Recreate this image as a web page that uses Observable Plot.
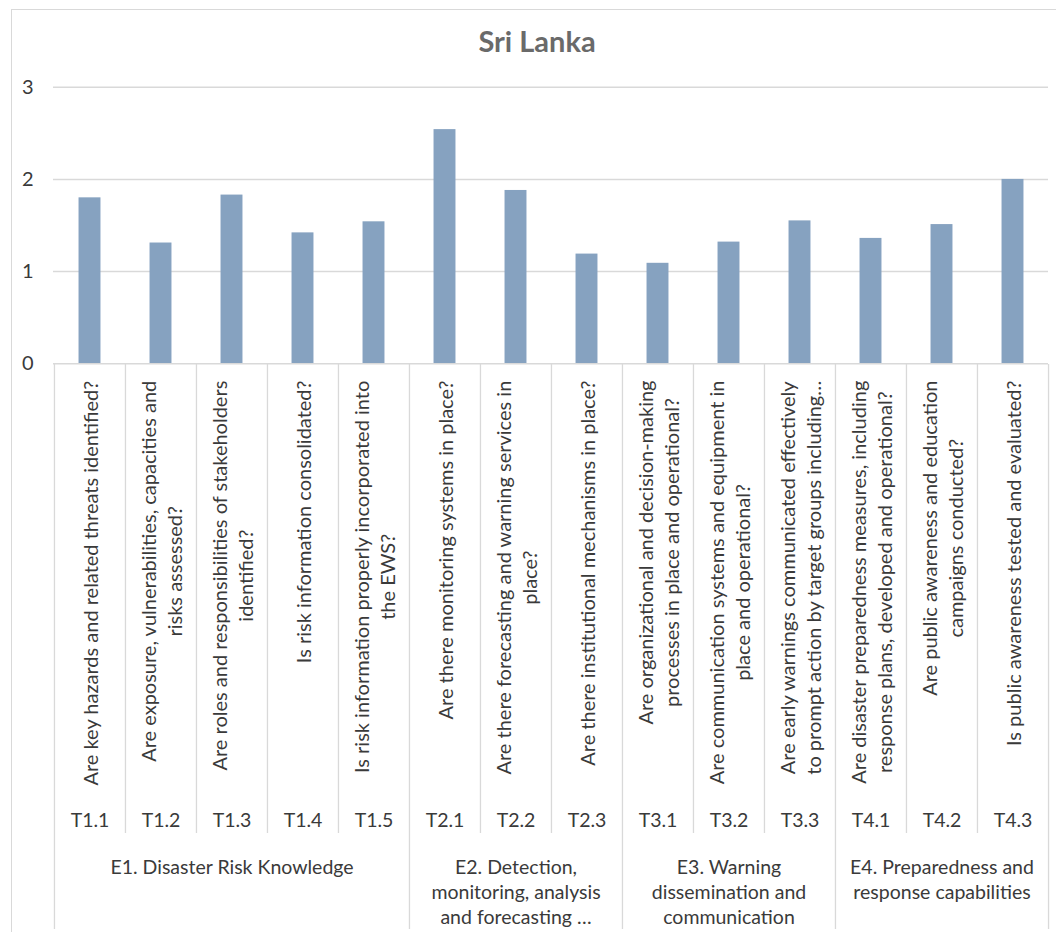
<!DOCTYPE html>
<html><head><meta charset="utf-8">
<script src="https://cdn.jsdelivr.net/npm/d3@7"></script>
<script src="https://cdn.jsdelivr.net/npm/@observablehq/plot@0.6"></script>
<style>
html,body{margin:0;padding:0;background:#fff;}
#wrap{position:relative;width:1056px;height:932px;overflow:hidden;font-family:Lato,"Open Sans",sans-serif;}
#frame{position:absolute;left:11px;top:9px;right:-2px;bottom:-2px;border-left:1.5px solid #d9d9d9;border-top:1.5px solid #d9d9d9;}
#title{position:absolute;left:397px;width:280px;top:24px;line-height:34px;text-align:center;font-weight:700;font-size:29px;color:#6a6a6a;}
#chart{position:absolute;left:0;top:70px;}
</style></head><body>
<div id="wrap"><div id="frame"></div><div id="title"></div><div id="chart"></div></div>
<script>
// ---- data ----
const codes = ["T1.1","T1.2","T1.3","T1.4","T1.5","T2.1","T2.2","T2.3","T3.1","T3.2","T3.3","T4.1","T4.2","T4.3"];
const questions = [
  "Are key hazards and related threats identified?",
  "Are exposure, vulnerabilities, capacities and\nrisks assessed?",
  "Are roles and responsibilities of stakeholders\nidentified?",
  "Is risk information consolidated?",
  "Is risk information properly incorporated into\nthe EWS?",
  "Are there monitoring systems in place?",
  "Are there forecasting and warning services in\nplace?",
  "Are there institutional mechanisms in place?",
  "Are organizational and decision-making\nprocesses in place and operational?",
  "Are communication systems and equipment in\nplace and operational?",
  "Are early warnings communicated effectively\nto prompt action by target groups including\u2026",
  "Are disaster preparedness measures, including\nresponse plans, developed and operational?",
  "Are public awareness and education\ncampaigns conducted?",
  "Is public awareness tested and evaluated?"
];
const values = [1.80, 1.31, 1.83, 1.42, 1.54, 2.54, 1.88, 1.19, 1.09, 1.32, 1.55, 1.36, 1.51, 2.00];
const groupKeys = ["T1","T2","T3","T4"];
const groupLabels = [
  "E1. Disaster Risk Knowledge",
  "E2. Detection,\nmonitoring, analysis\nand forecasting \u2026",
  "E3. Warning\ndissemination and\ncommunication",
  "E4. Preparedness and\nresponse capabilities"
];
const yTicks = [0, 1, 2, 3];
const title = "Sri Lanka";

// ---- layout ----
const W = 1056, H = 862, svgTop = 70;
const mL = 53, mR = 8, mT = 16.7, mB = 568.7;
const zeroPage = svgTop + H - mB;
const pxPerUnit = (H - mT - mB) / 3;
const yAt = pageY => (zeroPage - pageY) / pxPerUnit;
const bw = (W - mL - mR) / codes.length;
const barW = 22;

const qFont = 20, qLine = 1.3;
const ctx = document.createElement("canvas").getContext("2d");
ctx.font = `${qFont}px Lato`;
const maxW = s => Math.max(...s.split("\n").map(l => ctx.measureText(l).width));

const rows = codes.map((c, i) => ({code: c, question: questions[i], value: values[i]}));
const groupRows = groupKeys.map((g, i) => {
  const members = codes.filter(c => c.startsWith(g));
  return {label: groupLabels[i], mid: members[(members.length - 1) / 2]};
});
const groupStarts = new Set(groupKeys.map(g => codes.find(c => c.startsWith(g))));
const line = "#d9d9d9";

document.getElementById("title").textContent = title;

const chart = Plot.plot({
  width: W, height: H,
  marginLeft: mL, marginRight: mR, marginTop: mT, marginBottom: mB,
  style: {fontFamily: "Lato, sans-serif", fontSize: "20px", color: "#3a3a3a", background: "transparent"},
  x: {type: "band", domain: codes, padding: 0, axis: null},
  y: {domain: [0, 3], ticks: yTicks, tickSize: 0, tickPadding: 20, label: null, tickFormat: d => String(d)},
  marks: [
    Plot.ruleY([1, 2, 3], {stroke: line, strokeWidth: 1.5}),
    Plot.barY(rows, {x: "code", y: "value", fill: "#86a2c0", insetLeft: (bw - barW) / 2, insetRight: (bw - barW) / 2}),
    Plot.ruleY([0], {stroke: line, strokeWidth: 1.5}),
    Plot.ruleX(codes, {x: d => d, dx: -bw / 2, y1: yAt(364), y2: d => groupStarts.has(d) ? yAt(929) : yAt(833), stroke: line, strokeWidth: 1.3}),
    Plot.ruleX([codes[codes.length - 1]], {x: d => d, dx: bw / 2, y1: yAt(364), y2: yAt(929), stroke: line, strokeWidth: 1.3}),
    Plot.text(rows, {x: "code", y: d => yAt(380 + maxW(d.question) / 2), text: "question", rotate: -90,
      textAnchor: "middle", lineAnchor: "middle", lineHeight: qLine, fontSize: qFont}),
    Plot.text(codes, {x: d => d, y: yAt(820), text: d => d, lineAnchor: "middle", fontSize: 19.5}),
    Plot.text(groupRows, {x: "mid", y: yAt(856), text: "label", lineAnchor: "top", lineHeight: 1.28, fontSize: 19.5})
  ]
});
document.getElementById("chart").appendChild(chart);
</script>
</body></html>
